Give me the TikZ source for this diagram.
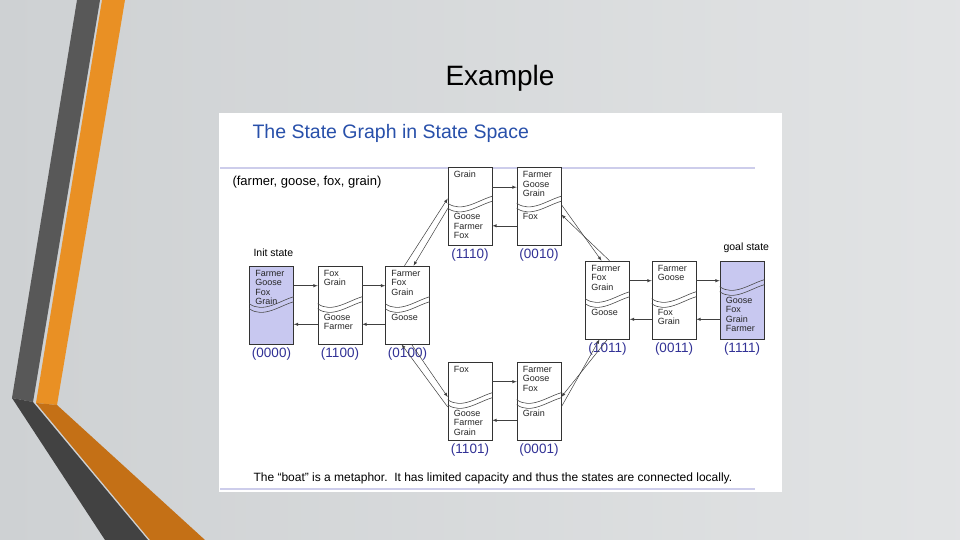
\documentclass[tikz,border=0pt]{standalone}
\usepackage{fontspec}
\setmainfont{Liberation Sans}
\usetikzlibrary{arrows,calc,positioning}

\definecolor{slidegray}{RGB}{206,209,211}
\definecolor{bandgray}{RGB}{88,88,88}
\definecolor{banddark}{RGB}{66,66,66}
\definecolor{bandorange}{RGB}{233,144,36}
\definecolor{banddeep}{RGB}{196,112,22}
\definecolor{titleblue}{RGB}{40,80,170}
\definecolor{labelblue}{RGB}{50,50,150}
\definecolor{bankfill}{RGB}{200,200,240}
\definecolor{rule}{RGB}{205,205,235}

% state box: name, x, y, wave offset, fill, top bank, bottom bank, code
\newcommand{\statebox}[8]{%
  \node[box, fill=#5] (#1) at (#2,#3) {};
  \draw[wave] ([yshift=-#4]#1.north west) .. controls +(14,10) and +(-14,4) .. ([yshift=-#4+7]#1.north east);
  \draw[wave] ([yshift=-#4-5]#1.north west) .. controls +(14,10) and +(-14,4) .. ([yshift=-#4+2]#1.north east);
  \node[bank, anchor=north west] (#1-top) at ([xshift=6,yshift=-4]#1.north west) {#6};
  \node[bank, anchor=north west] (#1-bot) at ([xshift=6,yshift=-#4-10]#1.north west) {#7};
  \node[code, below=3pt of #1] (#1-code) {#8};
}

\begin{document}
\begin{tikzpicture}[x=1pt, y=-1pt,
  box/.style={draw=black!80, line width=0.6pt, minimum width=44pt, minimum height=78pt, inner sep=0pt},
  wave/.style={black!70, line width=0.6pt},
  bank/.style={font=\fontsize{9}{9.6}\selectfont, align=left, inner sep=0pt, text=black!85},
  code/.style={font=\fontsize{13.5}{13.5}\selectfont, text=labelblue, inner sep=0pt},
  move/.style={-latex, black!75, line width=0.5pt}
  ]
  \useasboundingbox (0,0) rectangle (960,540);
  % slide
  \shade[left color=slidegray, right color=slidegray!60!white] (0,0) rectangle (960,540);
  \fill[bandgray] (77,0) -- (100,0) -- (33,402) -- (12,398) -- cycle;
  \fill[bandorange] (102,0) -- (125,0) -- (57,405) -- (36,403) -- cycle;
  \fill[banddark] (12,398) -- (33,402) -- (148,540) -- (105,540) -- cycle;
  \fill[banddeep] (36,403) -- (57,405) -- (205,540) -- (150,540) -- cycle;
  \node[font=\fontsize{28}{28}\selectfont] (title) at (500,78) {Example};
  % figure
  \fill[white] (219,113) rectangle (782,492);
  \node[font=\fontsize{19.5}{20}\selectfont, text=titleblue, anchor=west] (head) at (249,133) {The State Graph in State Space};
  \draw[rule, line width=2.5pt] (220,168) -- (755,168);
  \node[font=\fontsize{13}{13}\selectfont, anchor=west] (tuple) at (229,182) {(farmer, goose, fox, grain)};

  \statebox{s0000}{271.5}{305}{38}{bankfill}{Farmer\\Goose\\Fox\\Grain}{}{(0000)}
  \statebox{s1100}{340}{305}{38}{white}{Fox\\Grain}{Goose\\Farmer}{(1100)}
  \statebox{s0100}{407.5}{305}{38}{white}{Farmer\\Fox\\Grain}{Goose}{(0100)}
  \statebox{s1110}{470}{206.5}{36}{white}{Grain}{Goose\\Farmer\\Fox}{(1110)}
  \statebox{s0010}{539}{206.5}{36}{white}{Farmer\\Goose\\Grain}{Fox}{(0010)}
  \statebox{s1011}{607.5}{300}{38}{white}{Farmer\\Fox\\Grain}{Goose}{(1011)}
  \statebox{s0011}{674}{300}{38}{white}{Farmer\\Goose}{Fox\\Grain}{(0011)}
  \statebox{s1111}{742}{300}{26}{bankfill}{}{Goose\\Fox\\Grain\\Farmer}{(1111)}
  \statebox{s1101}{470}{401}{38}{white}{Fox}{Goose\\Farmer\\Grain}{(1101)}
  \statebox{s0001}{539}{401}{38}{white}{Farmer\\Goose\\Fox}{Grain}{(0001)}

  \node[font=\fontsize{10.5}{10.5}\selectfont, anchor=west] (init) at (250,253) {Init state};
  \node[font=\fontsize{10.5}{10.5}\selectfont, anchor=west] (goal) at (720,248) {goal state};
  \node[font=\fontsize{12}{12}\selectfont, anchor=west] (note) at (250,478) {The “boat” is a metaphor.\ \ It has limited capacity and thus the states are connected locally.};
  \draw[rule, line width=2pt] (220,489) -- (755,489);

  % moves along the chain
  \foreach \a/\b in {s0000/s1100, s1100/s0100, s1110/s0010, s1011/s0011, s0011/s1111, s1101/s0001}{
    \draw[move] ([yshift=-20]\a.north east) -- ([yshift=-20]\b.north west);
    \draw[move] ([yshift=20]\b.south west) -- ([yshift=20]\a.south east);
  }
  % moves across the river diagonals
  \draw[move] ([xshift=-3]s0100.north) -- ([yshift=8]s1110.west);
  \draw[move] ([yshift=-2]s1110.west) -- ([xshift=6]s0100.north);
  \draw[move] ([yshift=2]s0010.east) -- ([xshift=-6]s1011.north);
  \draw[move] ([xshift=2]s1011.north) -- ([yshift=-8]s0010.east);
  \draw[move] ([xshift=4]s0100.south) -- ([yshift=4]s1101.west);
  \draw[move] ([yshift=-6]s1101.west) -- ([xshift=-6]s0100.south);
  \draw[move] ([yshift=-6]s0001.east) -- ([xshift=-8]s1011.south);
  \draw[move] ([xshift=0]s1011.south) -- ([yshift=4]s0001.east);
\end{tikzpicture}
\end{document}
